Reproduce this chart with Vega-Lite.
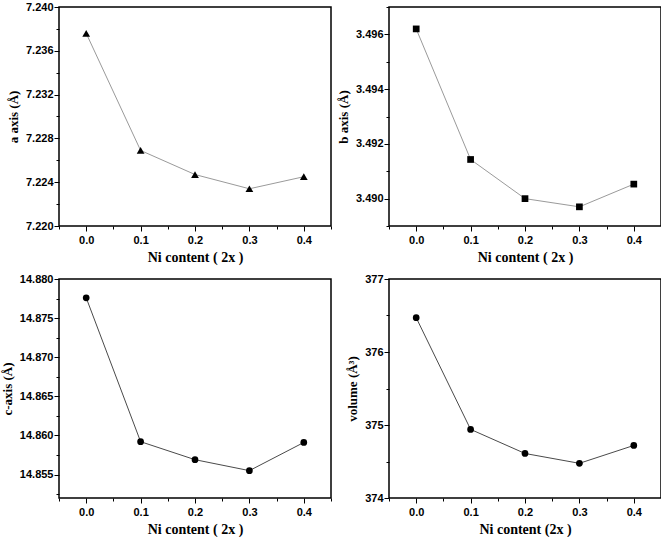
{
  "$schema": "https://vega.github.io/schema/vega-lite/v6.json",
  "padding": {"left": 0, "top": 0, "right": 0, "bottom": 0},
  "background": "white",
  "data": {"values": [
    {"x": 0.0, "a": 7.2376, "b": 3.4962, "c": 14.8776, "v": 376.47},
    {"x": 0.1, "a": 7.2269, "b": 3.49143, "c": 14.8592, "v": 374.94},
    {"x": 0.2, "a": 7.2247, "b": 3.4900, "c": 14.8569, "v": 374.61},
    {"x": 0.3, "a": 7.2234, "b": 3.4897, "c": 14.8555, "v": 374.475},
    {"x": 0.4, "a": 7.2245, "b": 3.49053, "c": 14.8591, "v": 374.72}
  ]},
  "config": {
    "view": {"stroke": "black", "strokeWidth": 1.5},
    "axis": {
      "domain": false, "grid": false, "tickColor": "black", "tickWidth": 1,
      "labelFont": "Liberation Sans", "labelFontWeight": "bold", "labelFontSize": 11, "labelColor": "black",
      "titleFont": "Liberation Serif", "titleFontWeight": "bold", "titleFontSize": 13, "titleColor": "black",
      "labelOverlap": false, "labelFlush": false, "labelPadding": 1
    },
    "axisX": {"titlePadding": 5, "labelPadding": 3, "titleFontSize": 14},
    "axisY": {"titlePadding": 5}
  },
  "columns": 2,
  "bounds": "flush",
  "spacing": {"row": 53, "column": 58},
  "concat": [
    {
      "width": 272, "height": 219,
      "mark": {"type": "line", "color": "#9a9a9a", "strokeWidth": 1, "point": {"shape": "triangle-up", "filled": true, "color": "black", "size": 60, "opacity": 1}},
      "encoding": {
        "x": {"field": "x", "type": "quantitative", "scale": {"domain": [-0.05, 0.45], "nice": false, "zero": false},
          "axis": {"title": "Ni content ( 2x )", "values": [-0.05, 0, 0.05, 0.1, 0.15, 0.2, 0.25, 0.3, 0.35, 0.4, 0.45],
            "labelExpr": "abs(datum.value*10 - round(datum.value*10)) < 0.01 ? format(datum.value, '.1f') : ''",
            "tickSize": {"condition": {"test": "abs(datum.value*10 - round(datum.value*10)) < 0.01", "value": 5}, "value": 3}}},
        "y": {"field": "a", "type": "quantitative", "scale": {"domain": [7.22, 7.24], "nice": false, "zero": false},
          "axis": {"title": "a axis (Å)", "values": [7.22, 7.222, 7.224, 7.226, 7.228, 7.23, 7.232, 7.234, 7.236, 7.238, 7.24],
            "labelExpr": "abs(datum.value*250 - round(datum.value*250)) < 0.01 ? format(datum.value, '.3f') : ''",
            "tickSize": {"condition": {"test": "abs(datum.value*250 - round(datum.value*250)) < 0.01", "value": 5}, "value": 3}}}
      }
    },
    {
      "width": 272, "height": 219,
      "mark": {"type": "line", "color": "#9a9a9a", "strokeWidth": 1, "point": {"shape": "square", "filled": true, "color": "black", "size": 45, "opacity": 1}},
      "encoding": {
        "x": {"field": "x", "type": "quantitative", "scale": {"domain": [-0.05, 0.45], "nice": false, "zero": false},
          "axis": {"title": "Ni content ( 2x )", "values": [-0.05, 0, 0.05, 0.1, 0.15, 0.2, 0.25, 0.3, 0.35, 0.4, 0.45],
            "labelExpr": "abs(datum.value*10 - round(datum.value*10)) < 0.01 ? format(datum.value, '.1f') : ''",
            "tickSize": {"condition": {"test": "abs(datum.value*10 - round(datum.value*10)) < 0.01", "value": 5}, "value": 3}}},
        "y": {"field": "b", "type": "quantitative", "scale": {"domain": [3.489, 3.497], "nice": false, "zero": false},
          "axis": {"title": "b axis (Å)", "values": [3.489, 3.49, 3.491, 3.492, 3.493, 3.494, 3.495, 3.496, 3.497],
            "labelExpr": "abs(datum.value*500 - round(datum.value*500)) < 0.01 ? format(datum.value, '.3f') : ''",
            "tickSize": {"condition": {"test": "abs(datum.value*500 - round(datum.value*500)) < 0.01", "value": 5}, "value": 3}}}
      }
    },
    {
      "width": 272, "height": 219,
      "mark": {"type": "line", "color": "#4a4a4a", "strokeWidth": 1, "point": {"shape": "circle", "filled": true, "color": "black", "size": 45, "opacity": 1}},
      "encoding": {
        "x": {"field": "x", "type": "quantitative", "scale": {"domain": [-0.05, 0.45], "nice": false, "zero": false},
          "axis": {"title": "Ni content ( 2x )", "values": [-0.05, 0, 0.05, 0.1, 0.15, 0.2, 0.25, 0.3, 0.35, 0.4, 0.45],
            "labelExpr": "abs(datum.value*10 - round(datum.value*10)) < 0.01 ? format(datum.value, '.1f') : ''",
            "tickSize": {"condition": {"test": "abs(datum.value*10 - round(datum.value*10)) < 0.01", "value": 5}, "value": 3}}},
        "y": {"field": "c", "type": "quantitative", "scale": {"domain": [14.852, 14.88], "nice": false, "zero": false},
          "axis": {"title": "c-axis (Å)", "values": [14.8525, 14.855, 14.8575, 14.86, 14.8625, 14.865, 14.8675, 14.87, 14.8725, 14.875, 14.8775, 14.88],
            "labelExpr": "abs(datum.value*200 - round(datum.value*200)) < 0.01 ? format(datum.value, '.3f') : ''",
            "tickSize": {"condition": {"test": "abs(datum.value*200 - round(datum.value*200)) < 0.01", "value": 5}, "value": 3}}}
      }
    },
    {
      "width": 272, "height": 219,
      "mark": {"type": "line", "color": "#4a4a4a", "strokeWidth": 1, "point": {"shape": "circle", "filled": true, "color": "black", "size": 45, "opacity": 1}},
      "encoding": {
        "x": {"field": "x", "type": "quantitative", "scale": {"domain": [-0.05, 0.45], "nice": false, "zero": false},
          "axis": {"title": "Ni content (2x )", "values": [-0.05, 0, 0.05, 0.1, 0.15, 0.2, 0.25, 0.3, 0.35, 0.4, 0.45],
            "labelExpr": "abs(datum.value*10 - round(datum.value*10)) < 0.01 ? format(datum.value, '.1f') : ''",
            "tickSize": {"condition": {"test": "abs(datum.value*10 - round(datum.value*10)) < 0.01", "value": 5}, "value": 3}}},
        "y": {"field": "v", "type": "quantitative", "scale": {"domain": [374, 377], "nice": false, "zero": false},
          "axis": {"title": "volume (Å³)", "values": [374, 374.5, 375, 375.5, 376, 376.5, 377],
            "labelExpr": "abs(datum.value - round(datum.value)) < 0.01 ? format(datum.value, 'd') : ''",
            "tickSize": {"condition": {"test": "abs(datum.value - round(datum.value)) < 0.01", "value": 5}, "value": 3}}}
      }
    }
  ]
}
